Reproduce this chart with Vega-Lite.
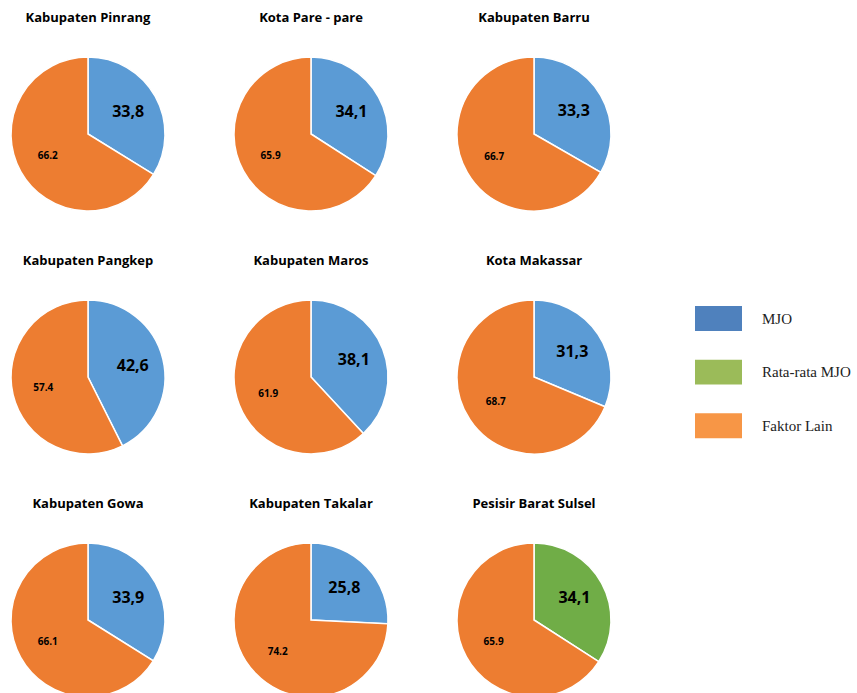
{
  "$schema": "https://vega.github.io/schema/vega-lite/v6.json",
  "background": "white",
  "padding": {"left": 3, "top": 12, "right": 0, "bottom": 0},
  "data": {"values": [
    {"region": "Kabupaten Pinrang", "cat": "MJO", "ord": 1, "value": 33.8, "label": "33,8"},
    {"region": "Kabupaten Pinrang", "cat": "Faktor Lain", "ord": 2, "value": 66.2, "label": "66.2"},
    {"region": "Kota Pare - pare", "cat": "MJO", "ord": 1, "value": 34.1, "label": "34,1"},
    {"region": "Kota Pare - pare", "cat": "Faktor Lain", "ord": 2, "value": 65.9, "label": "65.9"},
    {"region": "Kabupaten Barru", "cat": "MJO", "ord": 1, "value": 33.3, "label": "33,3"},
    {"region": "Kabupaten Barru", "cat": "Faktor Lain", "ord": 2, "value": 66.7, "label": "66.7"},
    {"region": "Kabupaten Pangkep", "cat": "MJO", "ord": 1, "value": 42.6, "label": "42,6"},
    {"region": "Kabupaten Pangkep", "cat": "Faktor Lain", "ord": 2, "value": 57.4, "label": "57.4"},
    {"region": "Kabupaten Maros", "cat": "MJO", "ord": 1, "value": 38.1, "label": "38,1"},
    {"region": "Kabupaten Maros", "cat": "Faktor Lain", "ord": 2, "value": 61.9, "label": "61.9"},
    {"region": "Kota Makassar", "cat": "MJO", "ord": 1, "value": 31.3, "label": "31,3"},
    {"region": "Kota Makassar", "cat": "Faktor Lain", "ord": 2, "value": 68.7, "label": "68.7"},
    {"region": "Kabupaten Gowa", "cat": "MJO", "ord": 1, "value": 33.9, "label": "33,9"},
    {"region": "Kabupaten Gowa", "cat": "Faktor Lain", "ord": 2, "value": 66.1, "label": "66.1"},
    {"region": "Kabupaten Takalar", "cat": "MJO", "ord": 1, "value": 25.8, "label": "25,8"},
    {"region": "Kabupaten Takalar", "cat": "Faktor Lain", "ord": 2, "value": 74.2, "label": "74.2"},
    {"region": "Pesisir Barat Sulsel", "cat": "Rata-rata MJO", "ord": 1, "value": 34.1, "label": "34,1"},
    {"region": "Pesisir Barat Sulsel", "cat": "Faktor Lain", "ord": 2, "value": 65.9, "label": "65.9"}
  ]},
  "spacing": 76,
  "resolve": {"scale": {"color": "independent", "fill": "independent", "y": "independent"}},
  "hconcat": [
    {
      "facet": {
        "field": "region",
        "type": "nominal",
        "sort": ["Kabupaten Pinrang", "Kota Pare - pare", "Kabupaten Barru", "Kabupaten Pangkep", "Kabupaten Maros", "Kota Makassar", "Kabupaten Gowa", "Kabupaten Takalar", "Pesisir Barat Sulsel"],
        "header": {"title": null, "labelFont": "Open Sans", "labelFontWeight": "bold", "labelFontSize": 13, "labelColor": "black", "labelPadding": 24}
      },
      "columns": 3,
      "spacing": {"column": 53, "row": 36},
      "spec": {
        "width": 170,
        "height": 170,
        "layer": [
          {
            "mark": {"type": "arc", "outerRadius": 77, "stroke": "white", "strokeWidth": 1.5},
            "encoding": {
              "theta": {"field": "value", "type": "quantitative", "stack": true},
              "order": {"field": "ord", "type": "quantitative"},
              "fill": {"field": "cat", "type": "nominal", "scale": {"domain": ["MJO", "Rata-rata MJO", "Faktor Lain"], "range": ["#5B9BD5", "#70AD47", "#ED7D31"]}, "legend": null}
            }
          },
          {
            "mark": {"type": "text", "radius": 46, "font": "Open Sans", "fontWeight": "bold", "color": "black"},
            "encoding": {
              "theta": {"field": "value", "type": "quantitative", "stack": true},
              "order": {"field": "ord", "type": "quantitative"},
              "text": {"field": "label", "type": "nominal"},
              "size": {"condition": {"test": "datum.cat === 'Faktor Lain'", "value": 10}, "value": 16}
            }
          }
        ]
      }
    },
    {
      "width": 47,
      "height": 440,
      "data": {"values": [{"cat": "MJO"}, {"cat": "Rata-rata MJO"}, {"cat": "Faktor Lain"}]},
      "layer": [
        {
          "mark": {"type": "point", "shape": "M-1,-0.53h2v1.06h-2z", "size": 2209, "filled": true, "opacity": 1, "strokeWidth": 0},
          "encoding": {
            "y": {"field": "cat", "type": "nominal", "sort": ["MJO", "Rata-rata MJO", "Faktor Lain"], "scale": {"type": "point", "padding": 0, "range": [269.5, 376.7]}, "axis": null},
            "color": {"field": "cat", "type": "nominal", "scale": {"domain": ["MJO", "Rata-rata MJO", "Faktor Lain"], "range": ["#4F81BD", "#9BBB59", "#F79646"]}, "legend": null}
          }
        },
        {
          "mark": {"type": "text", "align": "left", "baseline": "middle", "dx": 43.5, "font": "Liberation Serif", "fontSize": 15, "color": "#222222"},
          "encoding": {
            "y": {"field": "cat", "type": "nominal", "sort": ["MJO", "Rata-rata MJO", "Faktor Lain"], "scale": {"type": "point", "padding": 0, "range": [269.5, 376.7]}, "axis": null},
            "text": {"field": "cat", "type": "nominal"}
          }
        }
      ]
    }
  ],
  "config": {"view": {"stroke": null}}
}
